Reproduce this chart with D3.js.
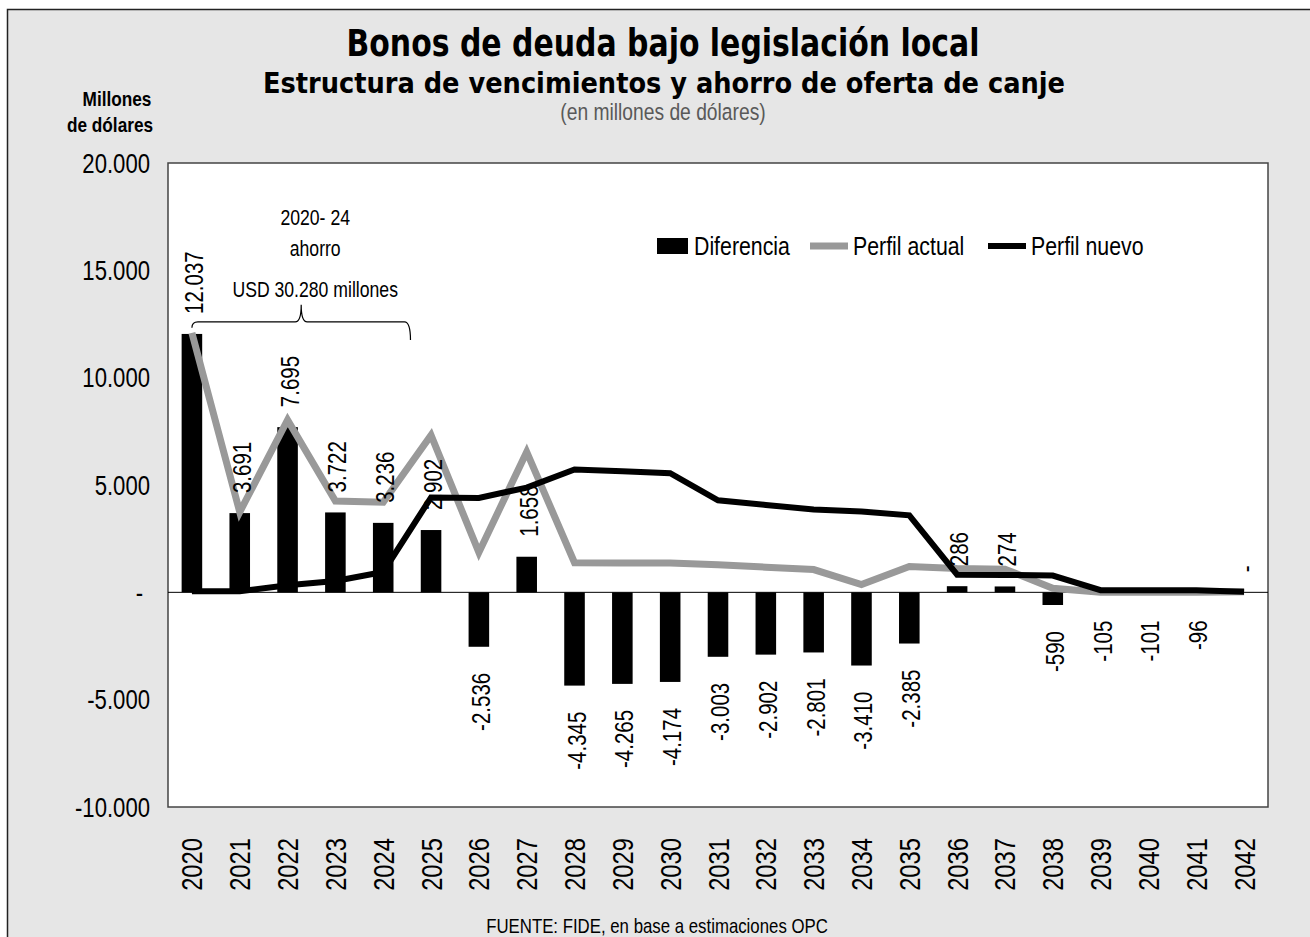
<!DOCTYPE html>
<html>
<head>
<meta charset="utf-8">
<script src="https://cdn.jsdelivr.net/npm/d3@7"></script>
<style>
  body { margin: 0; background: #fff; }
  svg text { font-family: "Liberation Sans", Arial, sans-serif; }
</style>
</head>
<body>
<div id="chart"></div>
<script>
// Data (millones de dólares)
const years = ["2020", "2021", "2022", "2023", "2024", "2025", "2026", "2027", "2028", "2029", "2030",
  "2031", "2032", "2033", "2034", "2035", "2036", "2037", "2038", "2039", "2040", "2041", "2042"];
const diferencia = [12037, 3691, 7695, 3722, 3236, 2902, -2536, 1658, -4345, -4265, -4174,
  -3003, -2902, -2801, -3410, -2385, 286, 274, -590, -105, -101, -96, 0];
const perfilActual = [12090, 3740, 8030, 4250, 4200, 7320, 1860, 6540, 1380, 1370, 1370,
  1290, 1170, 1060, 360, 1200, 1110, 1080, 190, 0, 0, 0, 30];
const perfilNuevo = [50, 50, 330, 530, 950, 4420, 4400, 4880, 5720, 5640, 5550,
  4290, 4070, 3860, 3770, 3590, 820, 810, 780, 100, 100, 100, 30];
const yTicks = [-10000, -5000, 0, 5000, 10000, 15000, 20000];

// Set up dimensions
const width = 1310, height = 937;
const plot = { left: 168, top: 163, right: 1268, bottom: 807 };
const sx = 0.82; // narrow text (no Arial Narrow installed)

// Spanish number format: 12.037
const locale = d3.formatLocale({ decimal: ",", thousands: ".", grouping: [3], currency: ["$", ""], minus: "-" });
const fmt = v => v === 0 ? "-" : locale.format(",.0f")(v);

const svg = d3.select("#chart")
  .append("svg")
  .attr("width", width)
  .attr("height", height);

// helper for horizontal narrow text
function addText(parent, str, tx, ty, size, anchor) {
  return parent.append("text")
    .attr("transform", `translate(${tx},${ty}) scale(${sx},1)`)
    .attr("text-anchor", anchor || "middle")
    .style("font-size", size + "px")
    .text(str);
}

// Outer frame
svg.append("rect")
  .attr("x", 7.5).attr("y", 9.5)
  .attr("width", width).attr("height", height)
  .attr("fill", "#e6e6e6")
  .attr("stroke", "#222")
  .attr("stroke-width", 1.5);

// Plot area
svg.append("rect")
  .attr("x", plot.left).attr("y", plot.top)
  .attr("width", plot.right - plot.left).attr("height", plot.bottom - plot.top)
  .attr("fill", "#fff")
  .attr("stroke", "#444")
  .attr("stroke-width", 1.5);

// Scales
const x = d3.scaleBand()
  .domain(years)
  .range([plot.left, plot.right])
  .paddingInner(0.57)
  .paddingOuter(0.285);
const xc = d => x(d) + x.bandwidth() / 2;

const y = d3.scaleLinear()
  .domain([-10000, 20000])
  .range([plot.bottom, plot.top]);

// Titles
svg.append("text")
  .attr("x", 663).attr("y", 56)
  .attr("text-anchor", "middle")
  .style("font-family", "'DejaVu Sans Condensed', sans-serif")
  .style("font-weight", "bold")
  .style("font-size", "37px")
  .attr("textLength", 633)
  .attr("lengthAdjust", "spacingAndGlyphs")
  .text("Bonos de deuda bajo legislación local");

svg.append("text")
  .attr("x", 664).attr("y", 93)
  .attr("text-anchor", "middle")
  .style("font-family", "'DejaVu Sans Condensed', sans-serif")
  .style("font-weight", "bold")
  .style("font-size", "29px")
  .attr("textLength", 802)
  .attr("lengthAdjust", "spacingAndGlyphs")
  .text("Estructura de vencimientos y ahorro de oferta de canje");

addText(svg, "(en millones de dólares)", 663, 120, 23.5).attr("fill", "#595959");

// Y axis title
addText(svg, "Millones", 117, 106, 21).style("font-weight", "bold");
addText(svg, "de dólares", 110, 132, 21).style("font-weight", "bold");

// Y tick labels
svg.append("g")
  .selectAll("text")
  .data(yTicks)
  .join("text")
  .attr("transform", d => `translate(${d === 0 ? 143 : 150},${y(d)}) scale(${sx},1)`)
  .attr("dy", "0.36em")
  .attr("text-anchor", "end")
  .style("font-size", "27px")
  .text(fmt);

// X tick labels (rotated)
svg.append("g")
  .selectAll("text")
  .data(years)
  .join("text")
  .attr("transform", d => `translate(${xc(d) + 10.5},838) rotate(-90) scale(${sx},1)`)
  .attr("text-anchor", "end")
  .style("font-size", "29px")
  .text(d => d);

// Bars
svg.append("g")
  .selectAll("rect")
  .data(diferencia)
  .join("rect")
  .attr("x", (d, i) => x(years[i]))
  .attr("width", x.bandwidth())
  .attr("y", d => y(Math.max(0, d)))
  .attr("height", d => Math.abs(y(d) - y(0)))
  .attr("fill", "#000");

// Zero line
svg.append("line")
  .attr("x1", plot.left).attr("x2", plot.right)
  .attr("y1", y(0)).attr("y2", y(0))
  .attr("stroke", "#000")
  .attr("stroke-width", 1);

// Lines
const line = d3.line()
  .x((d, i) => xc(years[i]))
  .y(d => y(d));

svg.append("path")
  .datum(perfilActual)
  .attr("d", line)
  .attr("fill", "none")
  .attr("stroke", "#999")
  .attr("stroke-width", 7);

svg.append("path")
  .datum(perfilNuevo)
  .attr("d", line)
  .attr("fill", "none")
  .attr("stroke", "#000")
  .attr("stroke-width", 6);

// Bar labels
svg.append("g")
  .selectAll("text")
  .data(diferencia)
  .join("text")
  .attr("transform", (d, i) => {
    const ty = d >= 0 ? y(d) - 20 : y(d) + 26;
    return `translate(${xc(years[i]) + 11},${ty}) rotate(-90) scale(${sx},1)`;
  })
  .attr("text-anchor", d => d >= 0 ? "start" : "end")
  .style("font-size", "25px")
  .text(fmt);

// Brace annotation 2020-24
const bx0 = xc("2020"), bx1 = xc("2024") + x.step() * 0.57, bxm = (bx0 + bx1) / 2;
const by = y(12600), byTop = y(13400);
svg.append("path")
  .attr("d", `M${bx0},${by + 6} Q${bx0},${by} ${bx0 + 6},${by} L${bxm - 6},${by} Q${bxm},${by} ${bxm},${byTop}`
    + ` Q${bxm},${by} ${bxm + 6},${by} L${bx1 - 6},${by} Q${bx1},${by} ${bx1},${y(11750)}`)
  .attr("fill", "none")
  .attr("stroke", "#000")
  .attr("stroke-width", 1.2);

const note = ["2020- 24", "ahorro", "USD 30.280 millones"];
const noteY = [225, 256, 297];
note.forEach((d, i) => addText(svg, d, bxm + 14, noteY[i], 21.5));

// Legend
const legend = svg.append("g").attr("transform", "translate(0,246)");
legend.append("rect")
  .attr("x", 657).attr("y", -8)
  .attr("width", 31).attr("height", 16)
  .attr("fill", "#000");
legend.append("line")
  .attr("x1", 810).attr("x2", 848)
  .attr("stroke", "#999").attr("stroke-width", 7);
legend.append("line")
  .attr("x1", 988).attr("x2", 1026)
  .attr("stroke", "#000").attr("stroke-width", 6);
const legendItems = [["Diferencia", 694], ["Perfil actual", 853], ["Perfil nuevo", 1031]];
legendItems.forEach(d => addText(legend, d[0], d[1], 9, 26, "start"));

// Source
addText(svg, "FUENTE: FIDE, en base a estimaciones OPC", 657, 933, 20.5);
</script>
</body>
</html>
